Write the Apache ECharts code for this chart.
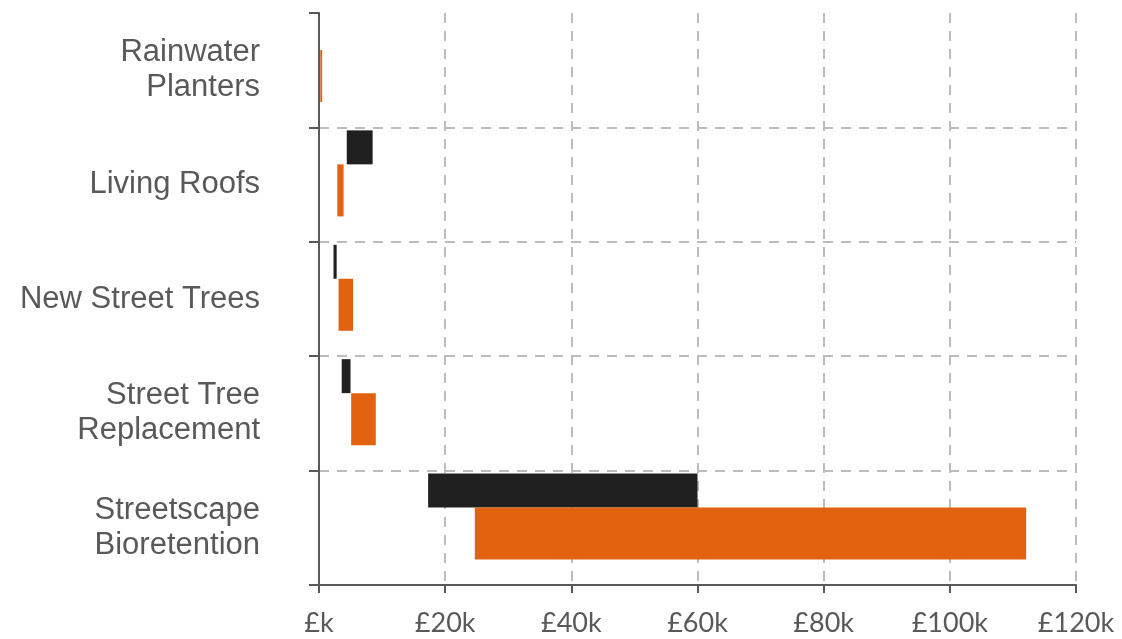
<!DOCTYPE html>
<html>
<head>
<meta charset="utf-8">
<script src="https://cdn.jsdelivr.net/npm/echarts@6/dist/echarts.min.js"></script>
<style>
html,body{margin:0;padding:0;background:#fff;}
#chart{width:1122px;height:639px;}
</style>
</head>
<body>
<div id="chart"></div>
<script>
// Categories (top to bottom)
const categories = ['Rainwater\nPlanters', 'Living Roofs', 'New Street Trees', 'Street Tree\nReplacement', 'Streetscape\nBioretention'];
// Values in £ thousands
const blackLow  = [null, 4.4, 2.3, 3.6, 17.3];
const blackHigh = [null, 8.5, 2.8, 5.0, 60.0];
const orangeLow  = [0.2, 2.9, 3.1, 5.1, 24.7];
const orangeHigh = [0.5, 3.9, 5.4, 9.0, 112.1];
const xTicks = [0, 20, 40, 60, 80, 100, 120];

function buildData(lo, hi) {
  const out = [];
  for (let i = 0; i < categories.length; i++) {
    if (lo[i] == null || hi[i] == null) continue;
    out.push([i, lo[i], hi[i]]);
  }
  return out;
}

function makeRender(f0, f1) {
  return function (params, api) {
    const cat = api.value(0);
    const lo = api.value(1), hi = api.value(2);
    const p0 = api.coord([lo, cat]);
    const p1 = api.coord([hi, cat]);
    const band = api.size([0, 1])[1];
    const top = p0[1] - band / 2;
    return {
      type: 'rect',
      shape: { x: p0[0], y: top + f0 * band, width: Math.max(p1[0] - p0[0], 1), height: (f1 - f0) * band },
      style: { fill: api.visual('color') }
    };
  };
}

const chart = echarts.init(document.getElementById('chart'));
chart.setOption({
  animation: false,
  grid: { left: 319, right: 46, top: 13, bottom: 54, containLabel: false },
  xAxis: {
    type: 'value',
    min: xTicks[0], max: xTicks[xTicks.length - 1], interval: 20,
    axisLine: { show: true, lineStyle: { color: '#595959', width: 2 } },
    axisTick: { show: true, length: 8, lineStyle: { color: '#595959', width: 2 } },
    axisLabel: {
      margin: 25, color: '#595959', fontFamily: 'Lato', fontSize: 27,
      formatter: v => v === 0 ? '£k' : '£' + v + 'k'
    },
    splitLine: { show: true, lineStyle: { color: '#bcbcbc', width: 2, type: [10, 8] } }
  },
  yAxis: {
    type: 'category',
    inverse: true,
    data: categories,
    axisLine: { show: true, lineStyle: { color: '#595959', width: 2 } },
    axisTick: { show: true, length: 10, lineStyle: { color: '#595959', width: 2 } },
    axisLabel: {
      margin: 59, color: '#595959', fontFamily: 'Liberation Sans', fontSize: 31, lineHeight: 35, align: 'right',
      padding: [14, 0, 0, 0]
    },
    splitLine: {
      show: true,
      interval: function (idx) { return idx !== 0; },
      lineStyle: { color: '#bcbcbc', width: 2, type: [10, 8] }
    }
  },
  series: [
    {
      name: 'Range 1', type: 'custom', color: '#202020',
      renderItem: makeRender(0.026, 0.323),
      encode: { x: [1, 2], y: 0 },
      data: buildData(blackLow, blackHigh)
    },
    {
      name: 'Range 2', type: 'custom', color: '#E2620F',
      renderItem: makeRender(0.323, 0.778),
      encode: { x: [1, 2], y: 0 },
      data: buildData(orangeLow, orangeHigh)
    }
  ]
});
</script>
</body>
</html>
